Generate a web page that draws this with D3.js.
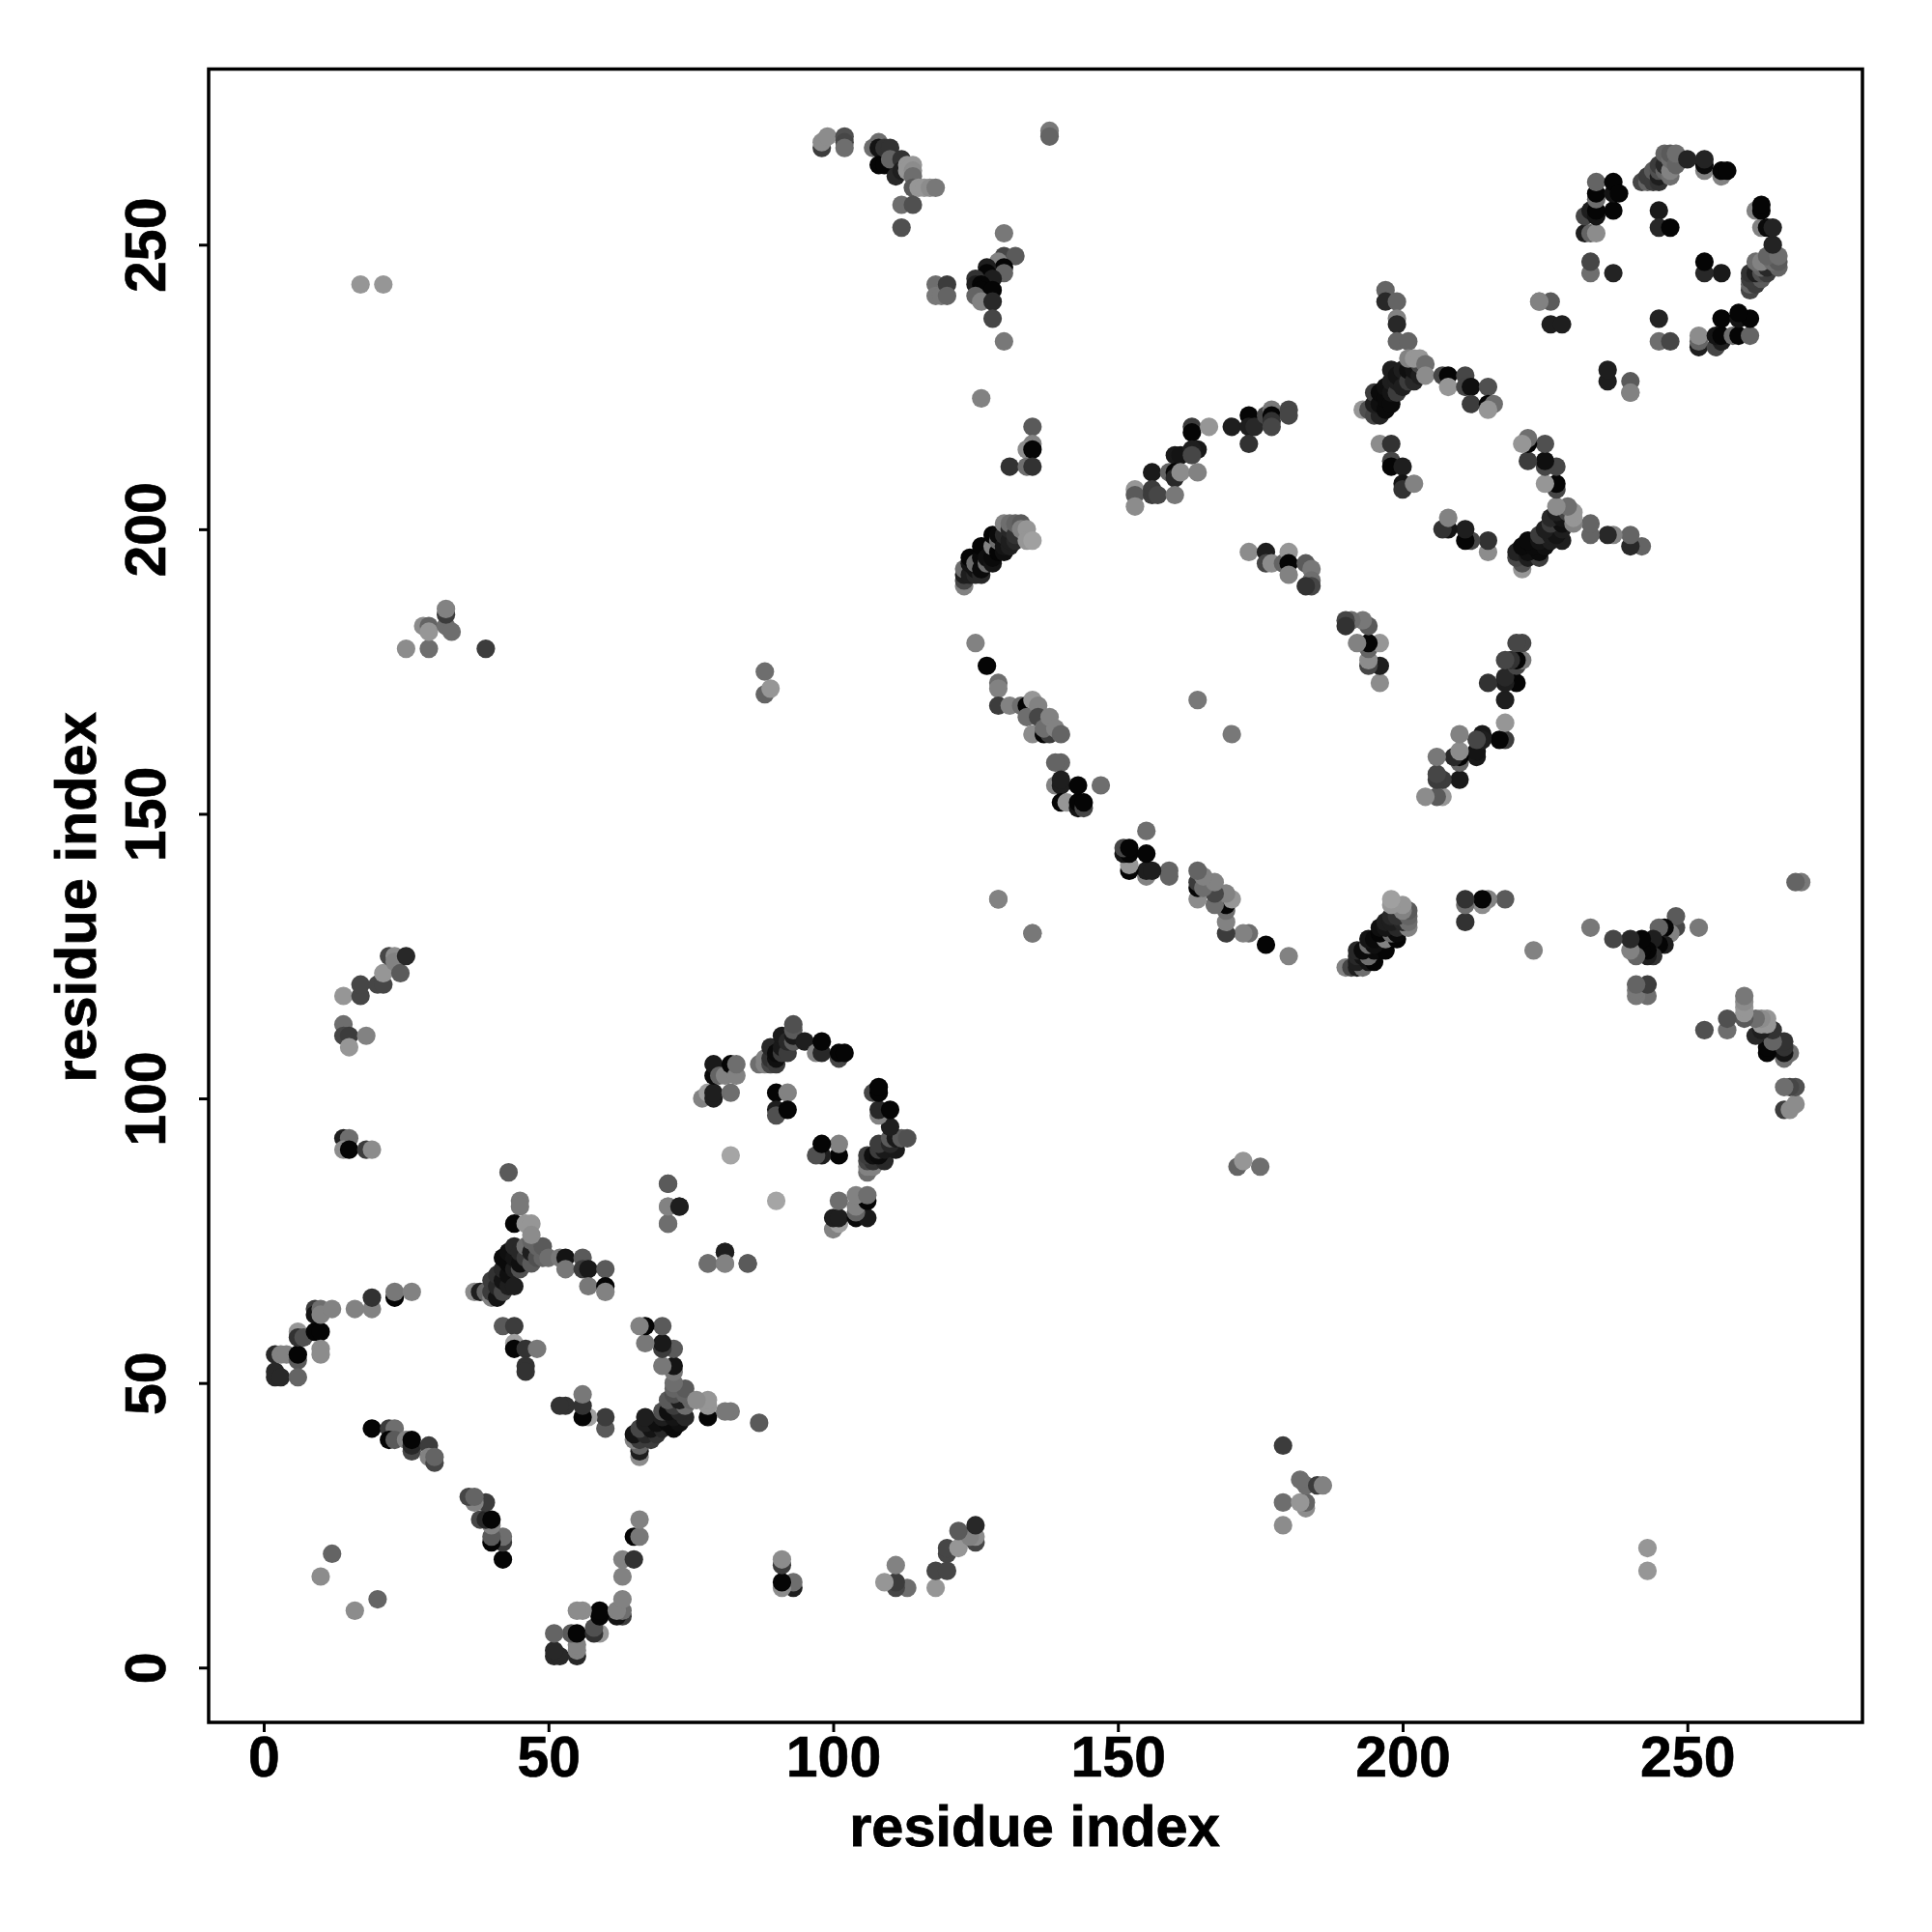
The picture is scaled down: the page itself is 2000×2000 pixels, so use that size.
<!DOCTYPE html>
<html><head><meta charset="utf-8">
<script src="https://cdn.jsdelivr.net/npm/d3@7/dist/d3.min.js"></script>
<style>html,body{margin:0;padding:0;background:#fff}svg{display:block}</style>
</head><body><div id="chart"></div>
<script>
// each entry: residue i, residue j (i<j), grey level; the map is symmetric
const arcN = [[2,51,40],[2,52,40],[3,51,40],[2,55,40],[3,55,130],[4,55,130],[6,54,90],[6,55,5],[6,51,100],[6,59,150],[6,58,50],[7,58,80],[9,63,60],[9,62,20],[9,59,5],[10,59,5],[10,63,110],[10,62,130],[10,56,140],[10,55,140],[12,63,130],[16,63,130],[19,63,130],[19,65,50],[23,65,5],[23,66,120],[26,66,130]];
const bandA = [[19,42,5],[22,42,60],[23,42,110],[22,40,5],[23,40,90],[25,40,130],[26,38,70],[26,39,40],[26,40,5],[29,39,60],[29,37,130],[30,36,70],[30,37,100]];
const isolatedA = [[10,16,140],[12,20,100],[14,118,150],[14,113,110],[14,111,70],[15,111,60],[15,109,150],[18,111,130],[17,118,70],[17,120,70],[20,120,70],[21,120,70],[21,122,150],[22,125,70],[23,125,140],[23,124,130],[24,122,90],[25,125,40],[14,93,30],[15,93,110],[14,91,140],[15,91,5],[18,91,60],[19,91,140],[17,243,150],[21,243,150],[25,179,140],[29,179,110],[39,179,60],[28,183,140],[29,183,100],[29,182,150],[32,183,110],[33,182,110],[32,185,60],[32,186,130],[88,175,110],[88,171,100],[89,172,150]];
const starA = [[37,66,140],[38,66,30],[39,66,100],[40,65,130],[40,66,60],[40,68,60],[41,65,20],[41,67,40],[41,69,50],[42,66,70],[42,68,20],[42,70,40],[42,72,10],[43,67,30],[43,69,15],[43,71,10],[43,73,15],[44,67,30],[44,70,30],[44,72,20],[44,74,40],[45,70,80],[45,71,15],[45,73,40],[46,72,60],[46,74,110],[47,71,90],[47,73,30],[47,75,100],[48,72,80],[48,74,100],[49,72,100],[49,74,90],[43,87,90],[45,82,120],[45,81,120],[44,78,5],[46,78,150],[47,78,150],[47,76,140],[50,72,110],[52,72,120],[53,72,20],[53,70,120],[56,72,90],[56,70,60],[57,70,25],[57,67,120],[60,70,90],[60,67,5],[60,66,130],[42,60,90],[44,60,60],[44,57,160],[44,56,5],[46,56,50],[48,56,120],[46,53,50],[46,52,50]];
const ringA = [[77,100,130],[78,101,160],[79,100,30],[79,101,30],[79,104,10],[79,106,25],[80,104,100],[81,104,130],[82,101,110],[82,106,5],[83,104,130],[83,106,110],[87,106,110],[88,106,130],[88,107,130],[89,106,70],[89,107,50],[89,109,40],[90,106,60],[90,107,15],[90,108,10],[91,108,60],[91,109,25],[91,111,25],[92,108,60],[92,110,40],[93,110,90],[93,111,25],[93,112,90],[93,113,80],[95,110,30],[97,108,130],[98,108,40],[98,110,5],[101,107,70],[101,108,5],[102,108,5],[90,101,5],[92,101,130],[90,98,30],[90,97,80],[92,98,5],[71,85,90],[71,81,130],[73,81,30],[71,78,120],[81,73,30],[71,78,110],[71,81,130],[71,85,90],[82,90,165]];
const bandB = [[98,267,60],[98,268,140],[99,269,140],[102,269,80],[102,268,70],[102,267,110],[107,267,110],[108,268,110],[108,267,20],[108,264,5],[109,267,50],[110,267,50],[109,264,5],[110,265,100],[111,262,40],[112,265,50],[112,263,30],[113,264,150],[113,263,150],[114,264,150],[114,263,140],[114,262,110],[114,260,90],[115,260,150],[116,260,150],[117,260,140],[118,260,120],[112,257,110],[114,257,80],[112,253,80],[118,243,110],[118,241,120],[119,241,120],[120,243,60],[120,241,100],[130,252,120],[130,248,70],[132,248,90],[129,247,130],[129,245,5],[130,246,5],[130,245,100],[127,246,30],[127,245,5],[127,243,5],[128,244,30],[125,244,50],[125,243,30],[126,243,5],[126,242,5],[128,242,5],[125,241,100],[126,240,130],[128,240,40],[128,237,70],[130,233,120],[138,270,120],[138,269,100],[126,223,130],[135,218,90],[135,215,130],[134,214,140],[135,214,5],[131,211,50],[134,211,110],[135,211,50]];
const bandC = [[123,190,130],[123,191,70],[123,192,30],[123,193,110],[124,192,30],[124,194,20],[124,195,5],[125,192,40],[125,193,20],[125,194,110],[126,192,40],[126,193,10],[126,195,10],[126,197,5],[127,194,110],[127,195,15],[128,194,20],[128,195,10],[128,197,130],[128,199,5],[129,196,5],[129,198,110],[129,199,10],[130,196,15],[130,197,20],[130,199,40],[130,201,130],[131,197,30],[131,198,30],[131,200,40],[131,201,110],[132,198,40],[132,199,50],[132,201,100],[133,201,90],[133,200,130],[134,200,150],[134,198,150],[135,198,160],[129,135,120],[135,129,130]];
const bandD = [[125,180,130],[127,176,5],[129,173,110],[129,172,130],[129,169,60],[131,169,130],[133,169,110],[134,169,5],[135,170,150],[134,167,110],[136,169,130],[136,167,70],[135,164,140],[137,164,5],[138,164,60],[137,165,110],[138,167,130],[139,165,130],[140,164,100],[140,159,100],[139,159,100],[139,155,130],[140,155,30],[140,156,30],[140,152,5],[141,152,150],[143,151,20],[143,152,5],[143,155,5],[144,151,70],[144,152,5],[147,155,110],[164,170,120]];
const bandE = [[163,218,60],[163,217,5],[166,218,150],[170,218,30],[173,220,5],[173,218,30],[173,215,50],[174,218,40],[176,220,70],[177,221,120],[177,220,5],[177,219,50],[177,218,70],[180,221,70],[180,220,70],[160,213,25],[161,213,20],[164,214,25],[163,214,30],[163,213,70],[156,210,25],[159,210,100],[160,210,5],[160,209,40],[161,210,140],[164,210,130],[153,207,150],[153,206,90],[153,204,140],[156,207,60],[156,206,60],[157,206,70],[160,206,120],[173,196,140],[176,196,30],[176,194,70],[177,194,140],[179,194,100],[180,196,150],[180,194,5],[180,192,130],[183,194,90],[184,193,120],[184,191,110],[184,190,70],[183,190,50]];
const starB = [[193,221,150],[194,221,80],[195,220,70],[196,220,35],[195,222,30],[195,224,60],[196,222,15],[196,224,10],[197,221,10],[197,223,10],[197,225,15],[198,222,10],[198,224,20],[198,226,30],[198,228,30],[199,224,60],[199,226,30],[199,227,20],[200,225,30],[200,228,30],[201,226,60],[201,228,15],[202,226,40],[202,228,20],[203,227,30],[203,229,70],[197,242,100],[197,240,40],[199,240,100],[199,237,130],[199,236,40],[199,233,100],[201,233,100],[201,230,130],[202,230,150],[203,230,150],[204,229,110],[204,227,140],[207,227,70],[208,227,5],[208,225,150],[211,227,70],[211,225,70],[212,225,15],[215,225,80],[212,222,60],[215,222,5],[216,222,110],[215,221,150],[196,215,140],[198,215,50],[198,212,70],[198,211,5],[200,211,30],[200,208,20],[200,207,50],[202,208,130]];
const ringB = [[224,240,140],[226,240,90],[226,236,30],[228,236,30],[224,240,130],[232,252,30],[232,255,70],[233,252,100],[233,256,30],[233,245,110],[233,247,70],[234,252,140],[234,255,20],[234,256,5],[234,258,110],[234,259,5],[234,261,100],[237,245,35],[237,256,5],[237,259,20],[237,261,5],[238,259,5],[245,256,25],[245,253,40],[247,253,5],[242,261,70],[243,261,100],[243,262,60],[244,261,60],[244,263,90],[245,261,50],[245,262,30],[245,263,80],[245,264,60],[246,263,100],[246,264,40],[246,266,100],[247,262,110],[247,263,130],[247,265,110],[247,266,90],[248,264,100],[248,266,110],[250,265,35],[253,263,130],[253,264,10],[253,265,35],[256,262,130],[256,263,5],[257,263,5]];
const tickValues = [0,50,100,150,200,250];
const axisTitle = "residue index";

const contacts = [...arcN,...bandA,...isolatedA,...starA,...ringA,...bandB,...bandC,...bandD,...bandE,...starB,...ringB];
const points = [];
contacts.forEach(c => points.push({x:c[0],y:c[1],g:c[2]}));
contacts.forEach(c => points.push({x:c[1],y:c[0],g:c[2]}));

const box = {left:216,right:1928,top:71.5,bottom:1783};
const xScale = d3.scaleLinear().domain([-9.67,280.75]).range([box.left,box.right]);
const yScale = d3.scaleLinear().domain([-9.63,280.85]).range([box.bottom,box.top]);

const svg = d3.select("#chart").append("svg").attr("width",2000).attr("height",2000).style("background","#fff");

svg.append("g").selectAll("circle").data(points).join("circle")
  .attr("cx",d=>xScale(d.x)).attr("cy",d=>yScale(d.y)).attr("r",9.6)
  .attr("fill",d=>d3.rgb(d.g,d.g,d.g));

svg.append("rect").attr("x",box.left).attr("y",box.top)
  .attr("width",box.right-box.left).attr("height",box.bottom-box.top)
  .attr("fill","none").attr("stroke","#000").attr("stroke-width",3.5);

const font = "'Liberation Sans',Arial,sans-serif";
const gx = svg.append("g").attr("transform",`translate(0,${box.bottom})`)
  .call(d3.axisBottom(xScale).tickValues(tickValues).tickSize(10).tickFormat(d3.format("d")));
const gy = svg.append("g").attr("transform",`translate(${box.left},0)`)
  .call(d3.axisLeft(yScale).tickValues(tickValues).tickSize(10).tickFormat(d3.format("d")));
[gx,gy].forEach(g=>{
  g.select(".domain").remove();
  g.selectAll("line").attr("stroke","#000").attr("stroke-width",3);
  g.selectAll("text").attr("fill","#000").attr("stroke","#000").attr("stroke-width",0.6)
    .style("font-family",font).style("font-weight","700").style("font-size","59px");
});
gx.selectAll("text").attr("y",56).attr("dy",0).attr("text-anchor","middle");
gy.selectAll("text").attr("transform","rotate(-90)").attr("x",0).attr("y",-45).attr("dy",0).attr("text-anchor","middle");

svg.append("text").attr("x",1071).attr("y",1911).attr("text-anchor","middle").attr("stroke","#000").attr("stroke-width",0.8)
  .style("font-family",font).style("font-weight","700").style("font-size","59.5px").text(axisTitle);
svg.append("text").attr("transform","translate(99,929) rotate(-90)").attr("text-anchor","middle").attr("stroke","#000").attr("stroke-width",0.8)
  .style("font-family",font).style("font-weight","700").style("font-size","59.5px").text(axisTitle);
</script></body></html>
